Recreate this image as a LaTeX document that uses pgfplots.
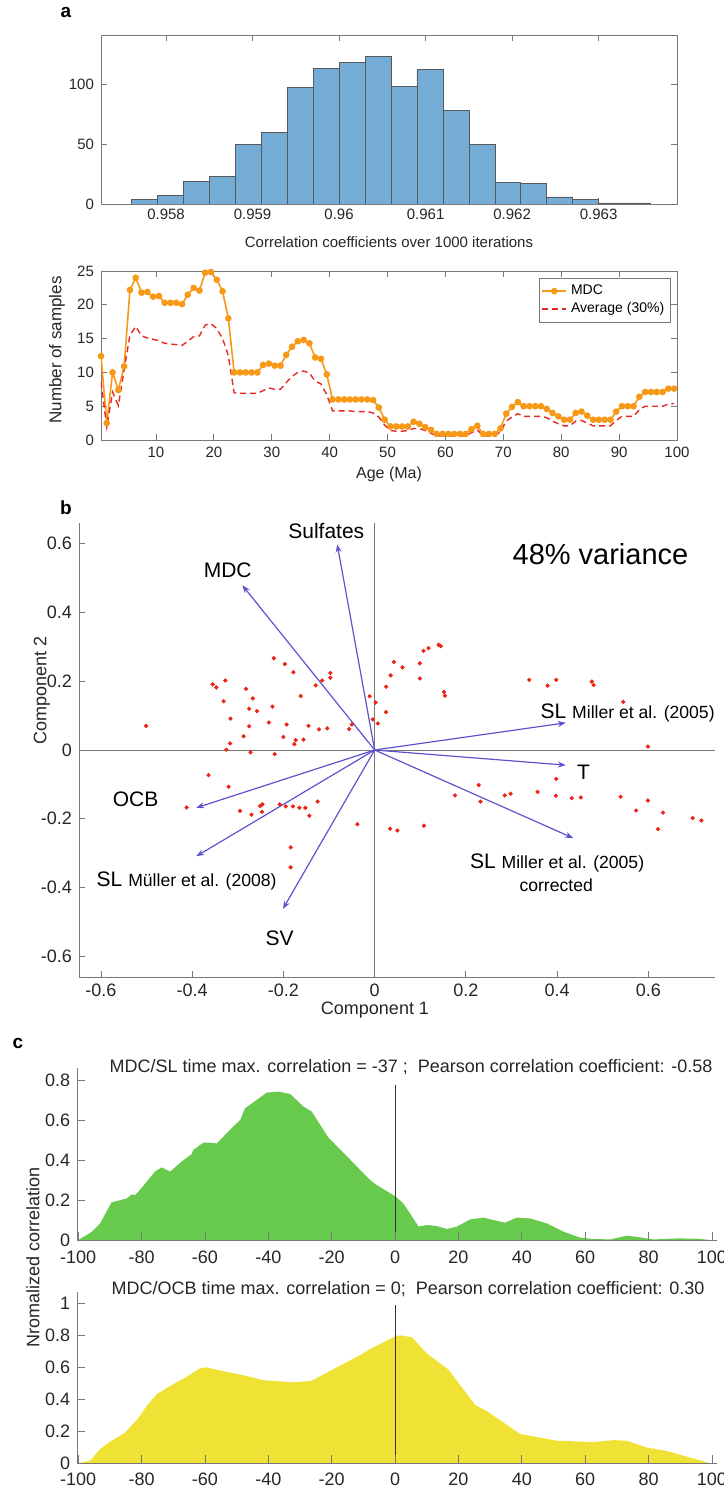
\documentclass[border=0pt]{standalone}
\usepackage{pgfplots}
\pgfplotsset{compat=1.18}
\usepackage{pgfplotstable}
\usepackage{fontspec}
\setmainfont{Liberation Sans}
\usetikzlibrary{arrows.meta}
\definecolor{histblue}{RGB}{116,172,214}
\definecolor{mdcorange}{RGB}{247,152,22}
\definecolor{avgred}{RGB}{232,40,36}
\definecolor{arrowblue}{RGB}{92,84,204}
\definecolor{dotred}{RGB}{238,36,20}
\definecolor{agreen}{RGB}{104,202,76}
\definecolor{ayellow}{RGB}{240,226,52}
\definecolor{axgray}{RGB}{120,120,120}
\newcommand{\fs}[1]{\fontsize{#1}{#1}\selectfont}
\tikzset{bip/.style={arrowblue, line width=0.6pt, -{Stealth[length=4pt,width=3pt]}}}

\pgfplotstableread{
x mdc avg
0.5 12.4 8.6
1.5 2.5 1.9
2.5 10 7.1
3.5 7.4 5.1
4.5 10.9 10.4
5.5 22.2 15.5
6.5 24 16.8
7.5 21.8 15.4
8.5 21.9 15.1
9.5 21.2 14.9
10.5 21.3 14.7
11.5 20.3 14.3
12.5 20.3 14.2
13.5 20.3 14.1
14.5 20.1 14.0
15.5 21.5 14.6
16.5 22.5 15.3
17.5 22.1 15.4
18.5 24.75 17.0
19.5 24.85 17.2
20.5 23.7 16.5
21.5 22 15.0
22.5 18 12.5
23.5 10 7.0
24.5 10 6.9
25.5 10 6.9
26.5 10 6.9
27.5 10 6.9
28.5 11.1 7.3
29.5 11.3 7.7
30.5 11 7.5
31.5 11 7.5
32.5 12.6 8.5
33.5 13.8 9.4
34.5 14.6 10.0
35.5 14.8 10.2
36.5 14.3 9.9
37.5 12.2 8.7
38.5 12 8.3
39.5 9.7 6.7
40.5 6 4.3
41.5 6 4.3
42.5 6 4.3
43.5 6 4.3
44.5 6 4.2
45.5 6 4.2
46.5 6 4.2
47.5 5.9 4.0
48.5 4.8 3.4
49.5 3.0 2.2
50.5 2.0 1.4
51.5 2.0 1.3
52.5 2.0 1.3
53.5 2.0 1.4
54.5 2.7 1.7
55.5 2.4 1.7
56.5 1.9 1.4
57.5 1.5 1.0
58.5 0.9 0.6
59.5 0.9 0.6
60.5 0.9 0.6
61.5 0.9 0.6
62.5 0.9 0.6
63.5 0.9 0.6
64.5 1.6 1.1
65.5 2.1 1.5
66.5 0.9 0.6
67.5 0.9 0.6
68.5 0.9 0.6
69.5 1.7 1.2
70.5 3.9 2.8
71.5 4.9 3.4
72.5 5.6 3.9
73.5 5.0 3.5
74.5 5.0 3.5
75.5 5.0 3.5
76.5 5.0 3.5
77.5 4.6 3.3
78.5 4.0 2.8
79.5 3.5 2.4
80.5 3.0 2.1
81.5 3.0 2.1
82.5 4.0 2.8
83.5 4.2 2.9
84.5 3.6 2.5
85.5 3.0 2.1
86.5 3.0 2.1
87.5 3.0 2.1
88.5 3.0 2.1
89.5 4.2 2.9
90.5 5.0 3.5
91.5 5.0 3.5
92.5 5.0 3.5
93.5 6.4 4.5
94.5 7.1 5.0
95.5 7.1 5.0
96.5 7.1 5.0
97.5 7.1 5.0
98.5 7.6 5.3
99.5 7.6 5.4
}\mdctable

\pgfplotstableread{
x y
-0.501 0.070
-0.355 0.191
-0.347 0.182
-0.327 0.202
-0.331 0.142
-0.316 0.091
-0.317 0.019
-0.325 0.001
-0.282 0.178
-0.267 0.150
-0.275 0.120
-0.258 0.113
-0.275 0.069
-0.287 0.040
-0.232 0.080
-0.224 0.126
-0.221 0.267
-0.197 0.250
-0.178 0.226
-0.193 0.074
-0.200 0.038
-0.173 0.029
-0.176 0.017
-0.156 0.030
-0.162 0.157
-0.145 0.070
-0.129 0.188
-0.115 0.202
-0.122 0.060
-0.104 0.063
-0.097 0.224
-0.097 0.210
-0.056 0.061
-0.050 0.074
-0.011 0.156
-0.004 0.089
0.002 0.138
0.007 0.077
0.025 0.184
0.035 0.217
0.042 0.256
0.061 0.240
0.025 0.110
0.099 0.252
0.099 0.208
0.107 0.288
0.118 0.296
0.140 0.306
0.145 0.302
0.152 0.169
0.154 0.158
0.339 0.204
0.379 0.187
0.398 0.204
0.476 0.199
0.480 0.189
0.545 0.140
0.599 0.010
-0.272 -0.007
-0.219 -0.012
-0.364 -0.073
-0.320 -0.107
-0.412 -0.167
-0.295 -0.177
-0.270 -0.188
-0.251 -0.163
-0.246 -0.158
-0.247 -0.180
-0.208 -0.158
-0.195 -0.164
-0.179 -0.164
-0.165 -0.168
-0.152 -0.168
-0.143 -0.191
-0.125 -0.150
-0.184 -0.283
-0.184 -0.341
-0.038 -0.216
0.398 -0.084
0.228 -0.102
0.176 -0.132
0.232 -0.150
0.285 -0.132
0.298 -0.127
0.357 -0.122
0.397 -0.133
0.432 -0.140
0.452 -0.138
0.539 -0.136
0.599 -0.147
0.573 -0.176
0.632 -0.182
0.621 -0.230
0.697 -0.198
0.716 -0.205
0.034 -0.229
0.050 -0.234
0.108 -0.220
}\pcatable

\pgfplotstableread{
x y
-100 0
-95.8 0.04
-93.1 0.083
-89.5 0.188
-84.7 0.208
-83.1 0.228
-82.0 0.225
-79.5 0.27
-75.8 0.342
-73.7 0.363
-71.0 0.342
-67.4 0.392
-64.2 0.43
-63.7 0.45
-60.5 0.487
-58.4 0.487
-56.3 0.483
-51.1 0.567
-48.9 0.60
-47.4 0.658
-43.7 0.70
-40.5 0.737
-36.8 0.742
-33.1 0.73
-28.9 0.667
-26.3 0.642
-21.1 0.513
-15.3 0.42
-11.0 0.35
-7.9 0.30
-5.8 0.275
0.2 0.217
2.6 0.183
4.7 0.133
7.4 0.067
10.0 0.075
13.2 0.07
16.3 0.055
19.5 0.067
23.7 0.103
27.9 0.112
31.0 0.10
34.7 0.087
38.4 0.112
42.6 0.108
47.9 0.083
53.1 0.042
58.4 0.012
62.6 0.005
67.9 0.003
73.2 0.022
77.4 0.013
81.6 0.003
89.0 0.008
95.3 0.007
99.5 0
}\sltable

\pgfplotstableread{
x y
-100 0
-96.3 0.016
-93.1 0.089
-90.0 0.135
-85.3 0.191
-81.1 0.281
-78.4 0.358
-75.2 0.433
-71.0 0.483
-65.8 0.541
-61.6 0.594
-59.5 0.60
-55.3 0.58
-46.8 0.546
-41.6 0.52
-32.1 0.506
-26.3 0.516
-19.5 0.589
-11.0 0.677
-7.9 0.714
0.2 0.796
1.6 0.80
5.3 0.788
10.0 0.688
16.8 0.587
25.3 0.364
28.9 0.327
39.5 0.183
51.1 0.141
62.6 0.133
69.0 0.145
73.2 0.141
79.5 0.098
85.8 0.077
99.5 0
}\ocbtable

\begin{document}
\begin{tikzpicture}
\path[use as bounding box] (0pt,0pt) rectangle (361.5pt,-743.5pt);

% ---------- panel a: histogram ----------
\begin{axis}[
  at={(50.5pt,-17.5pt)}, anchor=north west,
  scale only axis, width=288pt, height=84.5pt,
  xmin=0.957248, xmax=0.963906, ymin=0, ymax=141,
  xtick={0.958,0.959,0.96,0.961,0.962,0.963},
  xticklabels={0.958,0.959,0.96,0.961,0.962,0.963},
  ytick={0,50,100}, yticklabels={0,50,100},
  tick align=inside,
  axis line style={axgray, line width=0.4pt},
  tick style={axgray, line width=0.4pt},
  major tick length=3pt,
  ticklabel style={font=\fs{7.5}, text=black!85},
  xticklabel style={yshift=1pt},
]
\addplot[ybar interval, fill=histblue, draw=black!65, line width=0.3pt] coordinates {
(0.9576,4) (0.9579,7) (0.9582,19) (0.9585,23) (0.9588,50) (0.9591,60) (0.9594,97)
(0.9597,113) (0.9600,118) (0.9603,123) (0.9606,98) (0.9609,112) (0.9612,78)
(0.9615,50) (0.9618,18) (0.9621,17) (0.9624,6) (0.9627,4) (0.9630,1) (0.9633,1) (0.9636,1)
};
\end{axis}

% ---------- panel a: line chart ----------
\begin{axis}[
  at={(50.5pt,-135.5pt)}, anchor=north west,
  scale only axis, width=288pt, height=84.5pt,
  xmin=0.5, xmax=100, ymin=0, ymax=25,
  xtick={10,20,30,40,50,60,70,80,90,100},
  xticklabels={10,20,30,40,50,60,70,80,90,100},
  ytick={0,5,10,15,20,25}, yticklabels={0,5,10,15,20,25},
  tick align=inside,
  axis line style={axgray, line width=0.4pt},
  tick style={axgray, line width=0.4pt},
  major tick length=3pt,
  ticklabel style={font=\fs{7.5}, text=black!85},
  legend style={at={(0.9896,0.9586)}, anchor=north east, draw=axgray,
    fill=white, font=\fs{7}, inner sep=1.2pt, row sep=-1.5pt},
  legend cell align=left,
  legend image code/.code={\draw[mark repeat=2,mark phase=2,#1] plot coordinates {(0pt,0pt) (6pt,0pt) (12pt,0pt)};},
]
\addplot[mdcorange, line width=0.8pt, mark=*, mark size=1.25pt,
  mark options={fill=mdcorange, draw=mdcorange}] table[x=x, y=mdc] {\mdctable};
\addlegendentry{MDC}
\addplot[avgred, line width=0.7pt, dash pattern=on 3pt off 2pt] table[x=x, y=avg] {\mdctable};
\addlegendentry{Average (30\%)}
\end{axis}

% ---------- panel b: biplot ----------
\begin{axis}[
  at={(39.5pt,-261.5pt)}, anchor=north west,
  scale only axis, width=318pt, height=227pt,
  xmin=-0.648, xmax=0.746, ymin=-0.66, ymax=0.66,
  axis x line*=bottom, axis y line*=left,
  xtick={-0.6,-0.4,-0.2,0,0.2,0.4,0.6},
  xticklabels={-0.6,-0.4,-0.2,0,0.2,0.4,0.6},
  ytick={-0.6,-0.4,-0.2,0,0.2,0.4,0.6},
  yticklabels={-0.6,-0.4,-0.2,0,0.2,0.4,0.6},
  tick align=inside,
  axis line style={axgray, line width=0.5pt},
  tick style={axgray, line width=0.4pt},
  major tick length=3pt,
  ticklabel style={font=\fs{9}, text=black!85},
  clip=false,
]
\draw[axgray, line width=0.5pt] (axis cs:0,-0.66) -- (axis cs:0,0.66);
\draw[axgray, line width=0.5pt] (axis cs:-0.648,0) -- (axis cs:0.746,0);
\addplot[only marks, mark=*, mark size=0.85pt, mark options={draw=dotred, fill=dotred}] table[x=x, y=y] {\pcatable};
\addplot[bip] coordinates {(0,0) (-0.082,0.598)};
\addplot[bip] coordinates {(0,0) (-0.290,0.479)};
\addplot[bip] coordinates {(0,0) (0.419,0.079)};
\addplot[bip] coordinates {(0,0) (0.419,-0.044)};
\addplot[bip] coordinates {(0,0) (0.435,-0.256)};
\addplot[bip] coordinates {(0,0) (-0.391,-0.168)};
\addplot[bip] coordinates {(0,0) (-0.391,-0.309)};
\addplot[bip] coordinates {(0,0) (-0.201,-0.462)};
\node[font=\fs{10.5}] at (axis cs:-0.106,0.637) {Sulfates};
\node[font=\fs{10.5}] at (axis cs:-0.322,0.523) {MDC};
\node[anchor=west, inner sep=0pt] at (axis cs:0.363,0.108) {\fs{10.5}SL \fs{8.8}Miller et al. (2005)};
\node[font=\fs{10.5}] at (axis cs:0.458,-0.066) {T};
\node[inner sep=0pt] at (axis cs:0.400,-0.328) {\fs{10.5}SL \fs{8.8}Miller et al. (2005)};
\node[font=\fs{8.8}, inner sep=0pt] at (axis cs:0.398,-0.392) {corrected};
\node[font=\fs{10.5}] at (axis cs:-0.524,-0.142) {OCB};
\node[inner sep=0pt] at (axis cs:-0.412,-0.382) {\fs{10.5}SL \fs{8.8}Müller et al. (2008)};
\node[font=\fs{10.5}] at (axis cs:-0.208,-0.547) {SV};
\node[font=\fs{14.5}] at (axis cs:0.495,0.569) {48\% variance};
\end{axis}

% ---------- panel c: top ----------
\begin{axis}[
  at={(38.65pt,-534pt)}, anchor=north west,
  scale only axis, width=319.7pt, height=86pt,
  xmin=-100.3, xmax=101.5, ymin=0, ymax=0.86,
  axis x line*=bottom, axis y line*=left,
  xtick={-100,-80,-60,-40,-20,0,20,40,60,80,100},
  xticklabels={-100,-80,-60,-40,-20,0,20,40,60,80,100},
  ytick={0,0.2,0.4,0.6,0.8}, yticklabels={0,0.2,0.4,0.6,0.8},
  tick align=inside,
  axis line style={axgray, line width=0.5pt},
  tick style={axgray, line width=0.4pt},
  major tick length=4pt,
  ticklabel style={font=\fs{9}, text=black!85},
  xticklabel style={yshift=-2pt},
  axis on top,
  clip=false,
]
\addplot[fill=agreen, draw=none] table[x=x, y=y] {\sltable} \closedcycle;
\draw[black!80, line width=0.5pt] (axis cs:0,0) -- (axis cs:0,0.775);
\end{axis}

% ---------- panel c: bottom ----------
\begin{axis}[
  at={(38.65pt,-645.85pt)}, anchor=north west,
  scale only axis, width=319.7pt, height=85.8pt,
  xmin=-100.3, xmax=101.5, ymin=0, ymax=1.073,
  axis x line*=bottom, axis y line*=left,
  xtick={-100,-80,-60,-40,-20,0,20,40,60,80,100},
  xticklabels={-100,-80,-60,-40,-20,0,20,40,60,80,100},
  ytick={0,0.2,0.4,0.6,0.8,1}, yticklabels={0,0.2,0.4,0.6,0.8,1},
  tick align=inside,
  axis line style={axgray, line width=0.5pt},
  tick style={axgray, line width=0.4pt},
  major tick length=4pt,
  ticklabel style={font=\fs{9}, text=black!85},
  xticklabel style={yshift=-1.5pt},
  axis on top,
  clip=false,
]
\addplot[fill=ayellow, draw=none] table[x=x, y=y] {\ocbtable} \closedcycle;
\draw[black!80, line width=0.5pt] (axis cs:0,0) -- (axis cs:0,0.99);
\end{axis}

% ---------- free text ----------
\node[font=\bfseries\fs{9.5}] at (33pt,-6pt) {a};
\node[font=\bfseries\fs{9.5}] at (33pt,-254pt) {b};
\node[font=\bfseries\fs{9.5}] at (9pt,-521.5pt) {c};
\node[font=\fs{7.5}, text=black!85] at (194.5pt,-121pt) {Correlation coefficients over 1000 iterations};
\node[font=\fs{8.5}, text=black!85, rotate=90] at (28.5pt,-175pt) {Number of samples};
\node[font=\fs{8}, text=black!85] at (194.5pt,-237pt) {Age (Ma)};
\node[font=\fs{9}, text=black!85] at (187.5pt,-505pt) {Component 1};
\node[font=\fs{9}, text=black!85, rotate=90] at (21pt,-345pt) {Component 2};
\node[font=\fs{9}, text=black!85] at (205.5pt,-533.5pt) {MDC/SL time max. correlation = -37 ;\ \ Pearson correlation coefficient: -0.58};
\node[font=\fs{9}, text=black!85] at (204pt,-644.5pt) {MDC/OCB time max. correlation = 0;\ \ Pearson correlation coefficient: 0.30};
\node[font=\fs{9}, text=black!85, rotate=90] at (16.5pt,-628.5pt) {Nromalized correlation};
\end{tikzpicture}
\end{document}
